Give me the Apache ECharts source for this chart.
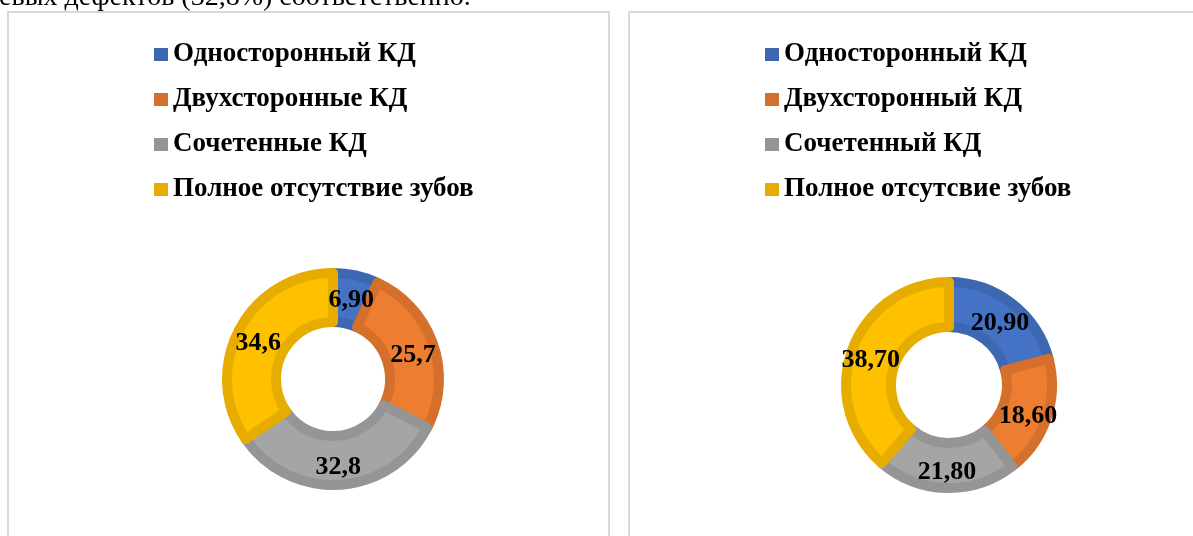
<!DOCTYPE html>
<html>
<head>
<meta charset="utf-8">
<title>КД</title>
<script src="https://cdn.jsdelivr.net/npm/echarts@6/dist/echarts.min.js"></script>
<style>
    html, body {margin: 0; padding: 0; background: #fff;}
    #main {width: 1193px; height: 536px;}
</style>
</head>
<body>
<div id="main"></div>
<script>
// данные левой диаграммы
var leftNames = ['Односторонный КД', 'Двухсторонные КД', 'Сочетенные КД', 'Полное отсутствие зубов'];
var leftValues = [6.9, 25.7, 32.8, 34.6];
var leftLabels = ['6,90', '25,7', '32,8', '34,6'];
// данные правой диаграммы
var rightNames = ['Односторонный КД ', 'Двухсторонный КД', 'Сочетенный КД', 'Полное отсутсвие зубов'];
var rightValues = [20.9, 18.6, 21.8, 38.7];
var rightLabels = ['20,90', '18,60', '21,80', '38,70'];

var fillColors = ['#4472C4', '#ED7D31', '#A5A5A5', '#FFC000'];
var edgeColors = ['#3D67B1', '#D5702C', '#959595', '#E6AD00'];
var serif = '"Liberation Serif", "Times New Roman", serif';

function makeData(names, values) {
    var arr = [];
    for (var i = 0; i < names.length; i++) {
        arr.push({
            name: names[i],
            value: values[i],
            itemStyle: {color: fillColors[i], borderColor: edgeColors[i]}
        });
    }
    return arr;
}

function makeLegendData(names) {
    var arr = [];
    for (var i = 0; i < names.length; i++) {
        arr.push({name: names[i], itemStyle: {color: edgeColors[i], borderWidth: 0}});
    }
    return arr;
}

function makeLegend(names, left) {
    return {
        data: makeLegendData(names),
        orient: 'vertical',
        left: left,
        top: 41,
        padding: 0,
        icon: 'rect',
        itemWidth: 14,
        itemHeight: 13,
        itemGap: 18,
        selectedMode: false,
        textStyle: {
            fontFamily: serif,
            fontWeight: 'bold',
            fontSize: 27,
            lineHeight: 27,
            color: '#000'
        }
    };
}

function makePie(names, values, labels, center, radius) {
    return {
        type: 'pie',
        center: center,
        radius: radius,
        startAngle: 90,
        clockwise: true,
        silent: true,
        itemStyle: {borderWidth: 10},
        label: {
            show: true,
            position: 'inside',
            offset: [0, 4],
            fontFamily: serif,
            fontWeight: 'bold',
            fontSize: 26,
            color: '#000',
            formatter: function (p) {
                return labels[p.dataIndex];
            }
        },
        labelLine: {show: false},
        data: makeData(names, values)
    };
}

var myChart = echarts.init(document.getElementById('main'));
var option = {
    backgroundColor: '#fff',
    animation: false,
    legend: [
        makeLegend(leftNames, 154),
        makeLegend(rightNames, 765)
    ],
    graphic: [
        {
            type: 'text',
            left: -1,
            top: -16,
            style: {
                text: 'евых дефектов (32,8%) соответственно.',
                font: '28px ' + serif,
                fill: '#000'
            }
        },
        {
            type: 'rect',
            shape: {x: 8, y: 12, width: 601, height: 600},
            style: {fill: 'none', stroke: '#d9d9d9', lineWidth: 2}
        },
        {
            type: 'rect',
            shape: {x: 629, y: 12, width: 600, height: 600},
            style: {fill: 'none', stroke: '#d9d9d9', lineWidth: 2}
        }
    ],
    series: [
        makePie(leftNames, leftValues, leftLabels, [333, 379], [57, 106]),
        makePie(rightNames, rightValues, rightLabels, [949, 385], [58, 103])
    ]
};
myChart.setOption(option, true);
</script>
</body>
</html>
